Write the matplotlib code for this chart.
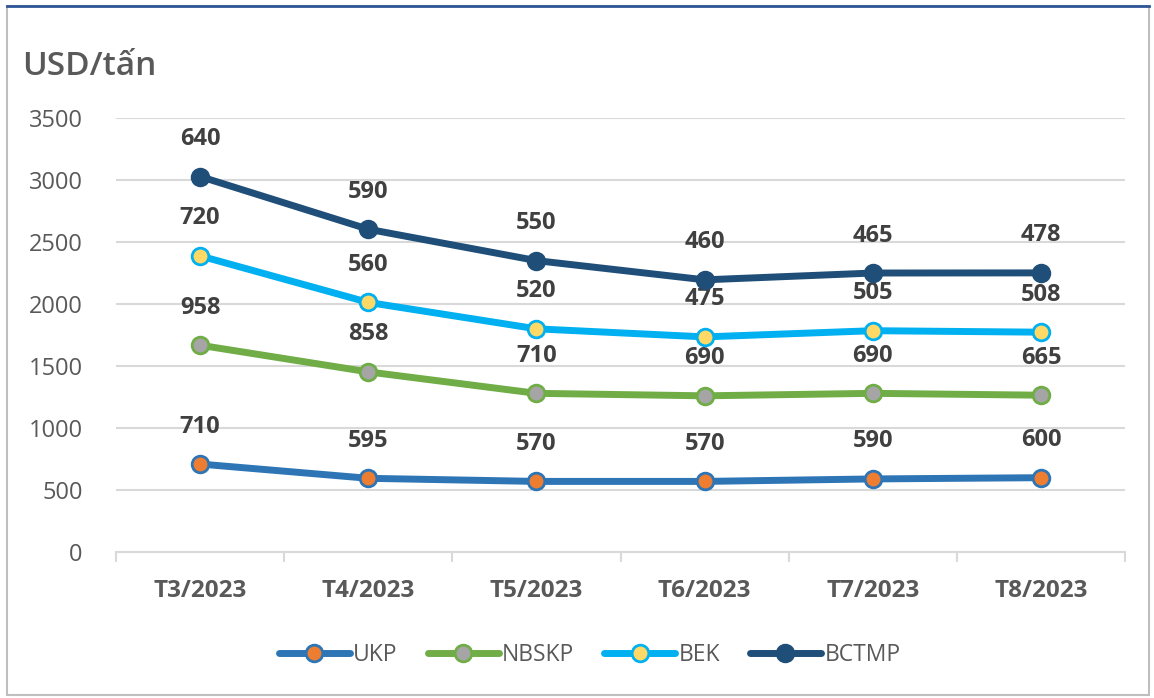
import numpy as np
import matplotlib.pyplot as plt
from matplotlib.lines import Line2D
from matplotlib.patches import Rectangle

plt.rcParams['font.family'] = ['Open Sans', 'DejaVu Sans']

months = ["T3/2023", "T4/2023", "T5/2023", "T6/2023", "T7/2023", "T8/2023"]
ukp = [710, 595, 570, 570, 590, 600]
nbskp = [958, 858, 710, 690, 690, 665]
bek = [720, 560, 520, 475, 505, 508]
bctmp = [640, 590, 550, 460, 465, 478]

names = ["UKP", "NBSKP", "BEK", "BCTMP"]
series = [ukp, nbskp, bek, bctmp]
line_colors = ["#2E75B6", "#70AD47", "#00B0F0", "#1F4E79"]
face_colors = ["#ED7D31", "#A5A5A5", "#FFD966", "#1F4E79"]

fig = plt.figure(figsize=(11.54, 6.98), dpi=100)
ax = fig.add_axes([0.1005, 0.209, 0.8745, 0.622])

x = np.arange(len(months))
base = np.zeros(len(months))
for name, vals, lc, fc in zip(names, series, line_colors, face_colors):
    cum = base + np.array(vals)
    ax.plot(x, cum, color=lc, lw=5, marker='o', ms=12, mfc=fc, mec=lc, mew=2,
            label=name, zorder=3, solid_capstyle='round')
    for xi, yi, v in zip(x, cum, vals):
        ax.annotate(str(v), (xi, yi), xytext=(0, 27), textcoords='offset points',
                    ha='center', va='center', fontsize=17, fontweight='bold',
                    color='#404040')
    base = cum

ax.set_xlim(-0.5, len(months) - 0.5)
ax.set_ylim(0, 3500)
ax.set_yticks(np.arange(0, 3501, 500))
ax.set_xticks(x)
ax.set_xticklabels(months, fontsize=17.5, fontweight='bold', color='#595959')
ax.set_xticks(np.arange(-0.5, len(months)), minor=True)
ax.tick_params(axis='x', which='major', length=0, pad=19)
ax.tick_params(axis='x', which='minor', length=7, width=1.5, color='#D9D9D9')
ax.tick_params(axis='y', length=0, labelsize=17, labelcolor='#595959', pad=24)
ax.grid(axis='y', color='#D9D9D9', lw=1.5)
ax.set_axisbelow(True)
for s in ['top', 'right', 'left']:
    ax.spines[s].set_visible(False)
ax.spines['bottom'].set_color('#D9D9D9')
ax.spines['bottom'].set_linewidth(1.5)

fig.text(0.019, 0.905, "USD/tấn", fontsize=24, color='#595959', fontweight='semibold',
         va='center', ha='left')

handles = [Line2D([0], [0], color=lc, lw=5, marker='o', ms=12, mfc=fc, mec=lc, mew=2,
                  solid_capstyle='round')
           for lc, fc in zip(line_colors, face_colors)]
leg = fig.legend(handles, names, loc='center', bbox_to_anchor=(0.511, 0.062), ncol=4,
                 frameon=False, fontsize=16.5, handlelength=3.1, handletextpad=0.15,
                 columnspacing=1.3)
for t in leg.get_texts():
    t.set_color('#595959')

fig.patches.append(Rectangle((0.006, 0.004), 0.99, 0.988, transform=fig.transFigure,
                             fill=False, edgecolor='#BFBFBF', lw=1.5))
fig.lines.append(Line2D([0.006, 0.996], [0.992, 0.992], transform=fig.transFigure,
                        color='#2F5597', lw=2))

fig.savefig("out.png", dpi=100)
